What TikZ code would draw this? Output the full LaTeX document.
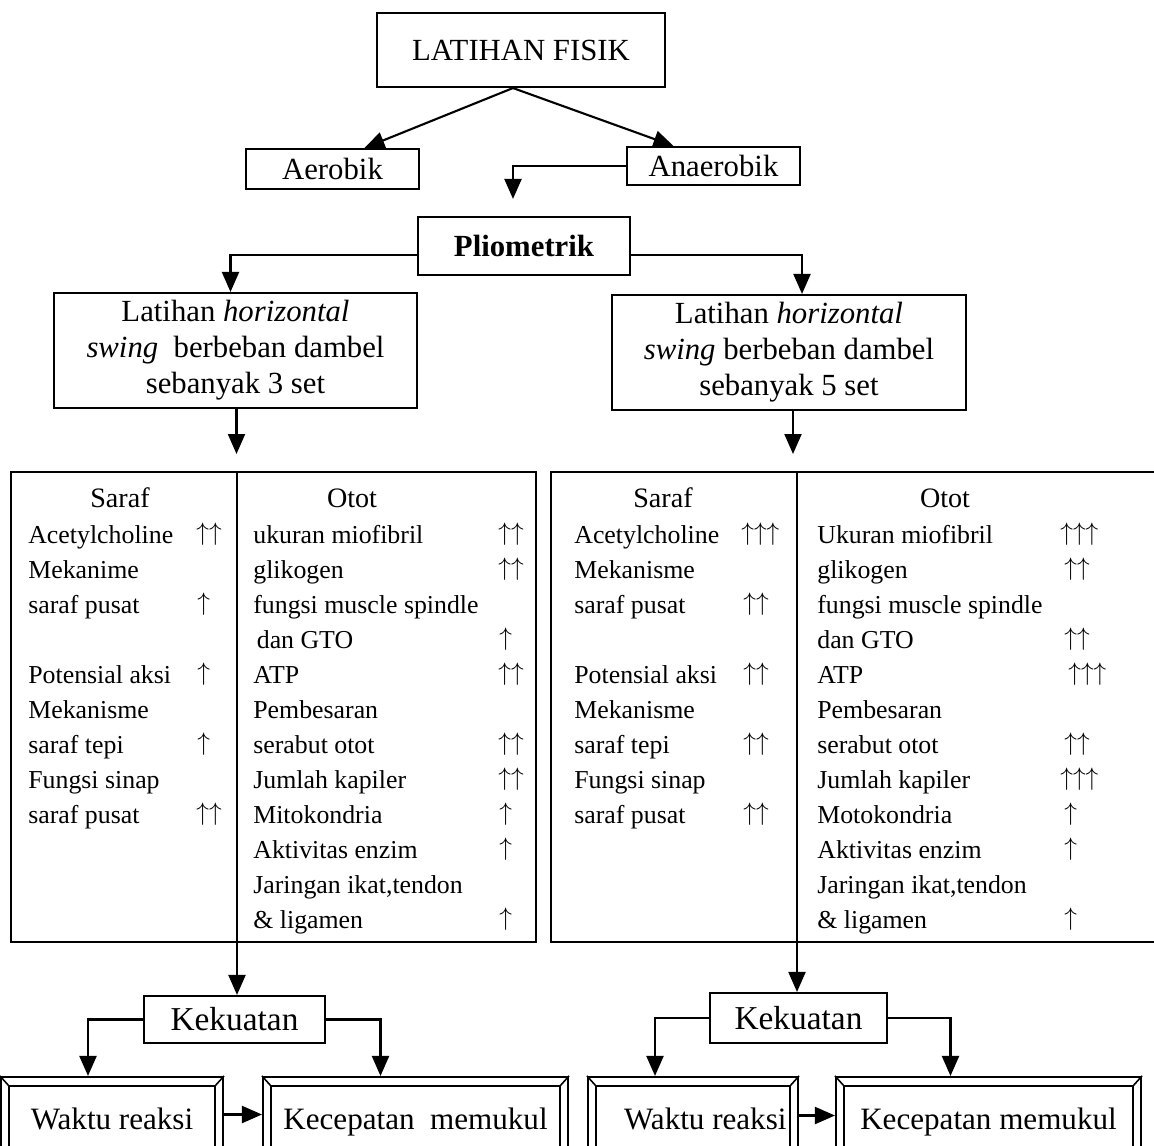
\documentclass[tikz,border=0pt]{standalone}
\usepackage{fontspec}
\setmainfont{Liberation Serif}
\usetikzlibrary{arrows.meta,calc}
\newcommand{\besar}{\fontsize{17.5}{20.5}\selectfont}
\newcommand{\naik}{$\uparrow$}
\tikzset{
  kotak/.style={draw,line width=1.2pt,inner sep=0pt},
  panah/.style={line width=1.2pt,-{Triangle[length=.4cm,width=.34cm]}},
  isi/.style={anchor=base west,inner sep=0pt,font=\fontsize{14.7}{17}\selectfont},
  judul/.style={anchor=base,inner sep=0pt,font=\fontsize{16}{18}\selectfont},
  bingkai/.style={draw,line width=1.2pt,inner xsep=0pt,inner ysep=.2cm,text height=.84cm,text depth=.5cm,anchor=base,font=\fontsize{17.7}{20}\selectfont}
}
\begin{document}
\begin{tikzpicture}[x=.02cm,y=-.02cm]
\useasboundingbox(0,0)rectangle(1154,1146);
\clip(0,0)rectangle(1154,1146);
% atas
\node[kotak,minimum width=5.76cm,minimum height=1.48cm,font=\besar](fisik)at(521,50){LATIHAN FISIK};
\node[kotak,minimum width=3.46cm,minimum height=.8cm,font=\besar](aerob)at(332.5,169){Aerobik};
\node[kotak,minimum width=3.46cm,minimum height=.76cm,font=\besar](anaerob)at(713.5,166){Anaerobik};
\node[kotak,minimum width=4.24cm,minimum height=1.16cm,font=\bfseries\besar](plio)at(524,246){Pliometrik};
\node[kotak,minimum width=7.26cm,minimum height=2.3cm,align=center,font=\besar](lat3)at(235.5,350.5){Latihan \textit{horizontal}\\\textit{swing}\ \ berbeban dambel\\sebanyak 3 set};
\node[kotak,minimum width=7.08cm,minimum height=2.3cm,align=center,font=\besar](lat5)at(789,352.5){Latihan \textit{horizontal}\\\textit{swing} berbeban dambel\\sebanyak 5 set};
\draw[panah]($(fisik.south)+(-8,0)$)--($(aerob.north)+(32,0)$);
\draw[panah]($(fisik.south)+(-8,0)$)--($(anaerob.north)+(-40,0)$);
\draw[panah,shorten >=.34cm](anaerob.west)-|($(plio.north)+(-11,0)$);
\draw[panah]($(plio.west)+(0,9)$)-|($(lat3.north)+(-5,0)$);
\draw[panah]($(plio.east)+(0,9)$)-|($(lat5.north)+(13,0)$);
% tabel
\node[kotak,minimum width=10.5cm,minimum height=9.4cm](tabL)at(273.5,707){};
\node[kotak,minimum width=12.3cm,minimum height=9.4cm](tabR)at(858.5,707){};
\coordinate(dvL)at(237,472);
\coordinate(dvR)at(797,472);
\draw[panah,shorten >=.34cm]($(lat3.south)+(1,0)$)--($(lat3.south |- tabL.north)+(1,0)$);
\draw[panah,shorten >=.34cm]($(lat5.south)+(4,0)$)--($(lat5.south |- tabR.north)+(4,0)$);
\node[judul](hsL)at(120,507){Saraf};
\node[judul](hoL)at(352,507){Otot};
\node[judul](hsR)at(663,507){Saraf};
\node[judul](hoR)at(945,507){Otot};
\foreach \r/\t in {0/Acetylcholine,1/Mekanime,2/saraf pusat,4/Potensial aksi,5/Mekanisme,6/saraf tepi,7/Fungsi sinap,8/saraf pusat}
  \node[isi](sL\r)at(28,{543+35*\r}){\t};
\foreach \r/\t in {0/ukuran miofibril,1/glikogen,2/fungsi muscle spindle,3/\hspace{2pt}dan GTO,4/ATP,5/Pembesaran,6/serabut otot,7/Jumlah kapiler,8/Mitokondria,9/Aktivitas enzim,10/{Jaringan ikat,tendon},11/\& ligamen}
  \node[isi](oL\r)at(253,{543+35*\r}){\t};
\foreach \r/\t in {0/Acetylcholine,1/Mekanisme,2/saraf pusat,4/Potensial aksi,5/Mekanisme,6/saraf tepi,7/Fungsi sinap,8/saraf pusat}
  \node[isi](sR\r)at(574,{543+35*\r}){\t};
\foreach \r/\t in {0/Ukuran miofibril,1/glikogen,2/fungsi muscle spindle,3/dan GTO,4/ATP,5/Pembesaran,6/serabut otot,7/Jumlah kapiler,8/Motokondria,9/Aktivitas enzim,10/{Jaringan ikat,tendon},11/\& ligamen}
  \node[isi](oR\r)at(817,{543+35*\r}){\t};
% panah naik
\foreach \x/\r/\a in {196/0/\naik\naik,197/2/\naik,197/4/\naik,197/6/\naik,196/8/\naik\naik,
  498/0/\naik\naik,498/1/\naik\naik,499/3/\naik,498/4/\naik\naik,498/6/\naik\naik,498/7/\naik\naik,499/8/\naik,499/9/\naik,499/11/\naik,
  741/0/\naik\naik\naik,743/2/\naik\naik,743/4/\naik\naik,743/6/\naik\naik,743/8/\naik\naik,
  1060/0/\naik\naik\naik,1064/1/\naik\naik,1064/3/\naik\naik,1068/4/\naik\naik\naik,1064/6/\naik\naik,1060/7/\naik\naik\naik,1064/8/\naik,1064/9/\naik,1064/11/\naik}
  \node[isi](n\x-\r)at(\x,{540+35*\r}){\a};
% bawah
\node[kotak,minimum width=3.62cm,minimum height=.94cm,font=\fontsize{19}{22}\selectfont](kekL)at(234.5,1019.5){Kekuatan};
\node[kotak,minimum width=3.54cm,minimum height=1cm,font=\fontsize{19}{22}\selectfont](kekR)at(798.5,1018){Kekuatan};
\draw[panah](dvL)--(dvL |- kekL.north);
\draw[panah](dvR)--(dvR |- kekR.north);
\node[bingkai,minimum width=4.44cm](wl)at(112,1129){Waktu reaksi};
\node[bingkai,minimum width=6.1cm](kl)at(415.5,1129){Kecepatan\ \ memukul};
\node[bingkai,minimum width=4.2cm](wr)at(693,1129){\hspace{14pt}Waktu reaksi};
\node[bingkai,minimum width=6.1cm](kr)at(988.5,1129){Kecepatan memukul};
\foreach \n in {wl,kl,wr,kr}{
  \draw[line width=.9pt]($(\n.north west)+(9,10)$)rectangle($(\n.south east)+(-9,-10)$);
  \draw[line width=.9pt](\n.north west)--++(9,10)(\n.north east)--++(-9,10);
}
\draw[panah](kekL.west)-|($(wl.north)+(-24,0)$);
\draw[panah](kekL.east)-|($(kl.north)+(-35,0)$);
\draw[panah]($(wl.east)+(0,-6)$)--($(kl.west)+(0,-6)$);
\draw[panah](kekR.west)-|($(wr.north)+(-38,0)$);
\draw[panah](kekR.east)-|($(kr.north)+(-38,0)$);
\draw[panah]($(wr.east)+(0,-5)$)--($(kr.west)+(0,-5)$);
\end{tikzpicture}
\end{document}
